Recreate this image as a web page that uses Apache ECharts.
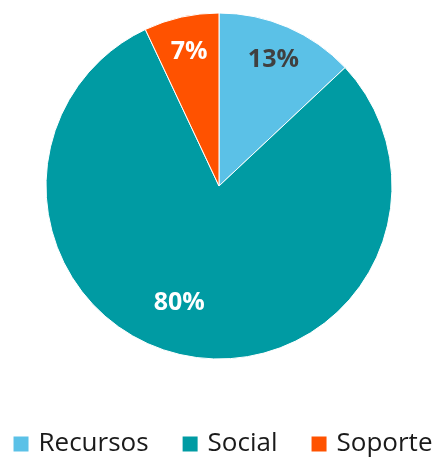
<!DOCTYPE html>
<html>
<head>
<meta charset="utf-8">
<script src="https://cdn.jsdelivr.net/npm/echarts@6/dist/echarts.min.js"></script>
<style>
  html, body { margin: 0; padding: 0; background: #fff; }
  #chart { width: 444px; height: 458px; }
</style>
</head>
<body>
<div id="chart"></div>
<script>
  // datos del gráfico
  var categories = ['Recursos', 'Social', 'Soporte']
  var values = [13, 80, 7]
  var colors = ['#5BC1E7', '#009BA3', '#FF5200']
  var labelColors = ['#404040', '#ffffff', '#ffffff']

  var pieData = categories.map(function (name, i) {
    return { name: name, value: values[i], itemStyle: { color: colors[i] } }
  })
  // serie invisible solo para colocar las etiquetas más hacia fuera
  var labelData = categories.map(function (name, i) {
    var item = {
      name: name,
      value: values[i],
      label: { color: labelColors[i] }
    }
    if (name === 'Social') item.label.offset = [-14, -18]
    return item
  })

  var myChart = echarts.init(document.getElementById('chart'))
  var option = {
    animation: false,
    legend: {
      data: categories,
      bottom: -4,
      left: 'center',
      icon: 'rect',
      itemWidth: 17,
      itemHeight: 17,
      itemGap: 32,
      textStyle: {
        fontFamily: 'Open Sans',
        fontSize: 26,
        color: '#1a1a1a',
        padding: [0, 0, 0, 4]
      }
    },
    series: [
      {
        type: 'pie',
        center: [219, 186],
        radius: [0, 173],
        startAngle: 90,
        data: pieData,
        label: { show: false },
        labelLine: { show: false },
        itemStyle: { borderColor: '#fff', borderWidth: 1 },
        silent: true
      },
      {
        type: 'pie',
        center: [219, 186],
        radius: [0, 268],
        startAngle: 90,
        data: labelData,
        itemStyle: { color: 'rgba(0,0,0,0)' },
        label: {
          show: true,
          position: 'inside',
          formatter: '{c}%',
          fontFamily: 'Open Sans',
          fontWeight: 'bold',
          fontSize: 25
        },
        labelLine: { show: false },
        silent: true
      }
    ]
  }
  myChart.setOption(option)
</script>
</body>
</html>
